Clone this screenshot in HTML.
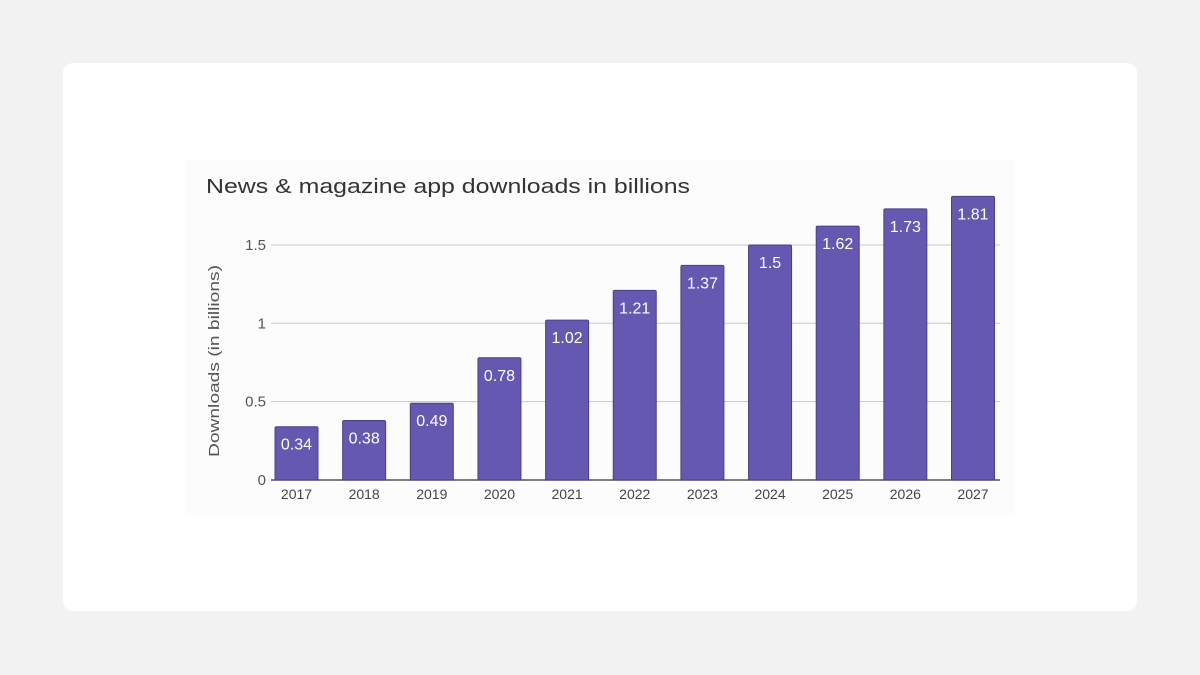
<!DOCTYPE html>
<html><head><meta charset="utf-8"><style>
body{margin:0;background:#f2f2f2;width:1200px;height:675px;overflow:hidden;font-family:"Liberation Sans",sans-serif}
#card{position:absolute;left:63px;top:63px;width:1074px;height:548px;background:#fff;border-radius:10px}
svg{position:absolute;left:0;top:0}
</style></head><body>
<div id="card"></div>
<svg width="1200" height="675">
<rect x="185" y="160" width="830" height="355" fill="#fcfcfc"/>
<text x="206" y="193" font-size="20" fill="#333" textLength="484" lengthAdjust="spacingAndGlyphs">News &amp; magazine app downloads in billions</text>
<text transform="translate(219,361) rotate(-90)" text-anchor="middle" font-size="15" fill="#555" textLength="192" lengthAdjust="spacingAndGlyphs">Downloads (in billions)</text>
<g id="grid"></g><g id="bars"></g>
</svg>
<script>
const categories=["2017","2018","2019","2020","2021","2022","2023","2024","2025","2026","2027"];
const values=[0.34,0.38,0.49,0.78,1.02,1.21,1.37,1.5,1.62,1.73,1.81];
const ticks=[0,0.5,1,1.5];
const tickLabels=["0","0.5","1","1.5"];
const NS="http://www.w3.org/2000/svg";
const y=v=>480-v*156.7;
const x=i=>296.5+i*67.65;
const grid=document.getElementById('grid'),bars=document.getElementById('bars');
function mk(tag,attrs,parent){const e=document.createElementNS(NS,tag);for(const k in attrs)e.setAttribute(k,attrs[k]);parent.appendChild(e);return e;}
ticks.forEach((t,i)=>{
 const l=mk('line',{x1:271,x2:1000,y1:y(t),y2:y(t),stroke:t===0?'#555':'#c8c8c8','stroke-width':t===0?1.5:1},grid);
 
 
 const tx=mk('text',{x:266,y:y(t)+5,'text-anchor':'end','font-size':15,fill:'#555'},grid);
 tx.textContent=tickLabels[i];
 
 
});
categories.forEach((c,i)=>{
 const v=values[i];
 const r=mk('rect',{x:x(i)-21.5,y:y(v),width:43,height:480-y(v),fill:'#6558b1',stroke:'#4a3f8c','stroke-width':1,rx:1.5},bars);
 
 
 const lb=mk('text',{x:x(i),y:y(v)+23,'text-anchor':'middle','font-size':16,fill:'#fff'},bars);
 lb.textContent=String(v);
 
 
 const xt=mk('text',{x:x(i),y:499,'text-anchor':'middle','font-size':14,fill:'#444'},bars);
 xt.textContent=c;
 
 
});
</script>
</body></html>
